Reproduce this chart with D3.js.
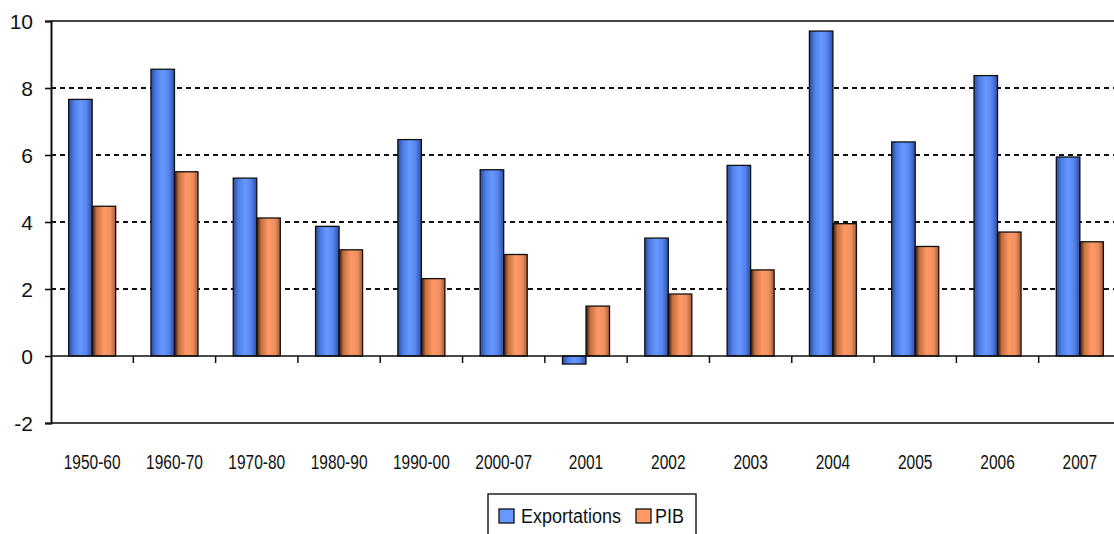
<!DOCTYPE html>
<html>
<head>
<meta charset="utf-8">
<script src="https://cdn.jsdelivr.net/npm/d3@7"></script>
<style>
  html, body { margin: 0; padding: 0; background: #fff; }
  svg { display: block; font-family: "Liberation Sans", Arial, sans-serif; }
</style>
</head>
<body>
<svg id="chart" width="1114" height="534"></svg>
<script>
// Growth rates (%) of exports and GDP by period
const categories = ["1950-60", "1960-70", "1970-80", "1980-90", "1990-00", "2000-07",
                    "2001", "2002", "2003", "2004", "2005", "2006", "2007"];
const exportations = [7.66, 8.56, 5.31, 3.87, 6.46, 5.56, -0.24, 3.52, 5.69, 9.70, 6.39, 8.37, 5.94];
const pib = [4.47, 5.50, 4.12, 3.17, 2.31, 3.03, 1.49, 1.85, 2.57, 3.95, 3.27, 3.70, 3.41];
const seriesNames = ["Exportations", "PIB"];
const yTicks = [-2, 0, 2, 4, 6, 8, 10];

const svg = d3.select("#chart");
const plot = { left: 51, top: 21, bottom: 423, right: 1121 };

const x = d3.scaleBand().domain(categories).range([plot.left, plot.right]).padding(0);
const gapHalf = x.bandwidth() * 0.75 / 3.5;
const xs = d3.scaleBand().domain(seriesNames).range([gapHalf, x.bandwidth() - gapHalf]).padding(0);
const y = d3.scaleLinear().domain([-2, 10]).range([plot.bottom, plot.top]);

// Bar shading gradients
const defs = svg.append("defs");
const gradStops = {
  Exportations: [[0, "#2b4a9c"], [0.22, "#4f7de6"], [0.5, "#6699ff"], [0.75, "#5685ee"], [1, "#2e4ea4"]],
  PIB: [[0, "#2a1206"], [0.18, "#c2703f"], [0.5, "#ff9966"], [0.78, "#f08f5f"], [1, "#a85a34"]]
};
seriesNames.forEach((s, i) => {
  const g = defs.append("linearGradient").attr("id", "grad" + i)
    .attr("x1", 0).attr("x2", 1).attr("y1", 0).attr("y2", 0);
  gradStops[s].forEach(([o, c]) => g.append("stop").attr("offset", o).attr("stop-color", c));
});

// Dashed gridlines
svg.append("g")
  .selectAll("line")
  .data(yTicks.filter(t => t > 0 && t < 10))
  .join("line")
  .attr("x1", plot.left).attr("x2", plot.right)
  .attr("y1", d => y(d)).attr("y2", d => y(d))
  .attr("stroke", "#111").attr("stroke-width", 2)
  .attr("stroke-dasharray", "5,4");

// Plot frame: top and bottom border
svg.append("line").attr("x1", plot.left).attr("x2", plot.right)
  .attr("y1", y(10)).attr("y2", y(10)).attr("stroke", "#444").attr("stroke-width", 2);
svg.append("line").attr("x1", plot.left).attr("x2", plot.right)
  .attr("y1", y(-2)).attr("y2", y(-2)).attr("stroke", "#444").attr("stroke-width", 2);

// Bars
const rows = categories.map((c, i) => ({ cat: c, vals: [exportations[i], pib[i]] }));
const groups = svg.append("g").selectAll("g")
  .data(rows).join("g")
  .attr("transform", d => `translate(${x(d.cat)},0)`);
groups.selectAll("rect")
  .data(d => d.vals.map((v, j) => ({ name: seriesNames[j], v, j })))
  .join("rect")
  .attr("x", d => xs(d.name))
  .attr("width", xs.bandwidth())
  .attr("y", d => y(Math.max(0, d.v)))
  .attr("height", d => Math.abs(y(d.v) - y(0)))
  .attr("fill", d => `url(#grad${d.j})`)
  .attr("stroke", "#111").attr("stroke-width", 1.3);

// Zero line with category separators
svg.append("line").attr("x1", plot.left).attr("x2", plot.right)
  .attr("y1", y(0)).attr("y2", y(0)).attr("stroke", "#111").attr("stroke-width", 1.6);
svg.append("g").selectAll("line")
  .data(categories)
  .join("line")
  .attr("x1", d => x(d) + x.step()).attr("x2", d => x(d) + x.step())
  .attr("y1", y(0)).attr("y2", y(0) + 7)
  .attr("stroke", "#111").attr("stroke-width", 1.5);

// Y axis
const yAxis = svg.append("g")
  .attr("transform", `translate(${plot.left},0)`)
  .call(d3.axisLeft(y).tickValues(yTicks).tickSize(6).tickPadding(12).tickFormat(d => String(d)));
yAxis.select(".domain").attr("stroke", "#111").attr("stroke-width", 2);
yAxis.selectAll(".tick line").attr("stroke", "#111").attr("stroke-width", 1.6);
yAxis.selectAll(".tick text")
  .attr("font-size", 21).attr("fill", "#111")
  .attr("font-family", "'Liberation Sans', Arial, sans-serif")
  .attr("dy", "0.36em");

// Category labels
svg.append("g").selectAll("text")
  .data(categories)
  .join("text")
  .attr("transform", d => `translate(${x(d) + x.bandwidth() / 2},469) scale(1,1.27)`)
  .attr("text-anchor", "middle")
  .attr("font-size", 15.5)
  .attr("fill", "#111")
  .text(d => d);

// Legend
const legend = svg.append("g");
legend.append("rect").attr("x", 488).attr("y", 494).attr("width", 208).attr("height", 60)
  .attr("fill", "#fff").attr("stroke", "#222").attr("stroke-width", 1.5);
const legendItems = [
  { name: seriesNames[0], color: "#6699ff", sx: 499, tx: 521 },
  { name: seriesNames[1], color: "#ff9966", sx: 636, tx: 655 }
];
legend.selectAll("rect.sw").data(legendItems).join("rect").attr("class", "sw")
  .attr("x", d => d.sx).attr("y", 509).attr("width", 15).attr("height", 14)
  .attr("fill", d => d.color).attr("stroke", "#111").attr("stroke-width", 1.3);
legend.selectAll("text").data(legendItems).join("text")
  .attr("transform", d => `translate(${d.tx},523) scale(1,1.17)`)
  .attr("font-size", 18).attr("fill", "#111")
  .text(d => d.name);
</script>
</body>
</html>
